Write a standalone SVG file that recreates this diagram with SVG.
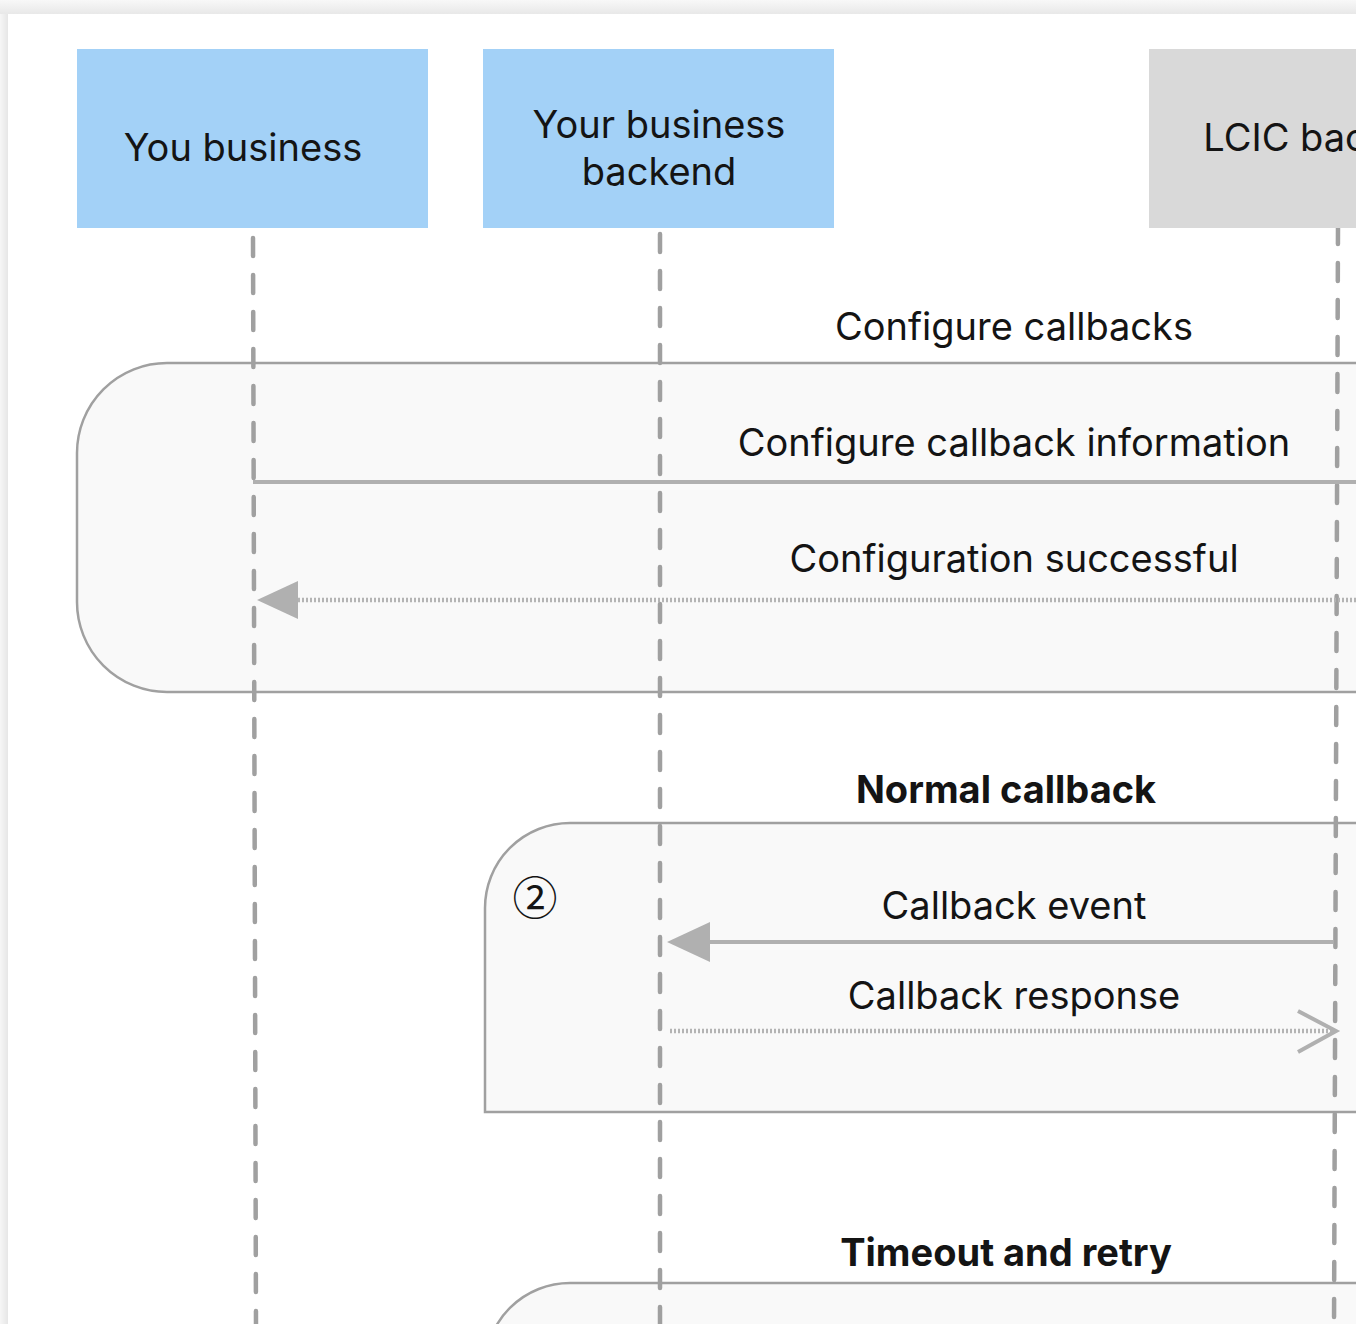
<svg xmlns="http://www.w3.org/2000/svg" width="1367" height="1324" viewBox="0 0 1367 1324">
<defs>
  <style>
    text { font-family: Inter, "Noto Sans", "Liberation Sans", sans-serif; fill: #141414; }
    .lbl { font-size: 38px; text-anchor: middle; }
    .ttl { font-size: 38px; font-weight: 700; text-anchor: middle; }
    .life { stroke: #a0a0a0; stroke-width: 4.5; stroke-dasharray: 18 19; stroke-linecap: round; fill: none; }
    .frame { fill: #f9f9f9; stroke: #a0a0a0; stroke-width: 2.5; }
    .solid { stroke: #b0b0b0; stroke-width: 4; fill: none; }
    .dotted { stroke: #b4b4b4; stroke-width: 4.5; stroke-dasharray: 2 2; fill: none; }
  </style>
  <clipPath id="card"><rect x="8" y="14" width="1348" height="1310"/></clipPath>
  <linearGradient id="shL" x1="0" y1="0" x2="1" y2="0">
    <stop offset="0" stop-color="#f6f6f6"/><stop offset="1" stop-color="#e6e6e6"/>
  </linearGradient>
  <linearGradient id="shT" x1="0" y1="0" x2="0" y2="1">
    <stop offset="0" stop-color="#f8f8f8"/><stop offset="1" stop-color="#e8e8e8"/>
  </linearGradient>
</defs>
<rect x="0" y="0" width="1367" height="1324" fill="#ffffff"/>
<rect x="0" y="0" width="8" height="1324" fill="url(#shL)"/>
<rect x="0" y="0" width="1356" height="14" fill="url(#shT)"/>
<g clip-path="url(#card)">
  <g id="frame-configure">
    <path class="frame" d="M1400 363 H167 A90 90 0 0 0 77 453 V602 A90 90 0 0 0 167 692 H1400"/>
    <text class="lbl" x="1014" y="340">Configure callbacks</text>
  </g>
  <g id="frame-normal">
    <path class="frame" d="M1400 823 H570 A85 85 0 0 0 485 908 V1112 H1400"/>
    <text class="ttl" x="1006" y="803">Normal callback</text>
    <text x="535" y="915" font-size="45" text-anchor="middle" style="font-family:'Noto Sans CJK SC','DejaVu Sans',sans-serif">②</text>
  </g>
  <g id="frame-timeout">
    <path class="frame" d="M1400 1283 H570 A85 85 0 0 0 485 1368 V1400 H1400 Z"/>
    <text class="ttl" x="1006" y="1266">Timeout and retry</text>
  </g>
  <g id="lifelines">
    <line class="life" x1="253" y1="238" x2="256" y2="1330"/>
    <line class="life" x1="660" y1="234" x2="660" y2="1330"/>
    <line class="life" x1="1338" y1="226" x2="1334" y2="1330"/>
  </g>
  <g id="node-you-business">
    <rect x="77" y="49" width="351" height="179" fill="#a3d1f7"/>
    <text class="lbl" x="243" y="161">You business</text>
  </g>
  <g id="node-your-business-backend">
    <rect x="483" y="49" width="351" height="179" fill="#a3d1f7"/>
    <text class="lbl" x="659" y="138">Your business</text>
    <text class="lbl" x="659" y="185">backend</text>
  </g>
  <g id="node-lcic-backend">
    <rect x="1149" y="49" width="351" height="179" fill="#d9d9d9"/>
    <text class="lbl" x="1329" y="151">LCIC backend</text>
  </g>
  <g id="connectors">
    <line class="solid" x1="253" y1="482" x2="1400" y2="482"/>
    <text class="lbl" x="1014" y="456">Configure callback information</text>
    <line class="dotted" x1="298" y1="600" x2="1400" y2="600"/>
    <polygon points="257,600 298,581 298,619" fill="#b0b0b0"/>
    <text class="lbl" x="1014" y="572">Configuration successful</text>
    <line class="solid" x1="705" y1="942" x2="1333" y2="942"/>
    <polygon points="667,942 710,922 710,962" fill="#b0b0b0"/>
    <text class="lbl" x="1014" y="919">Callback event</text>
    <line class="dotted" x1="670" y1="1031" x2="1334" y2="1031"/>
    <polyline points="1298,1011 1336,1031 1298,1052" class="solid"/>
    <text class="lbl" x="1014" y="1009">Callback response</text>
  </g>
</g>
</svg>
